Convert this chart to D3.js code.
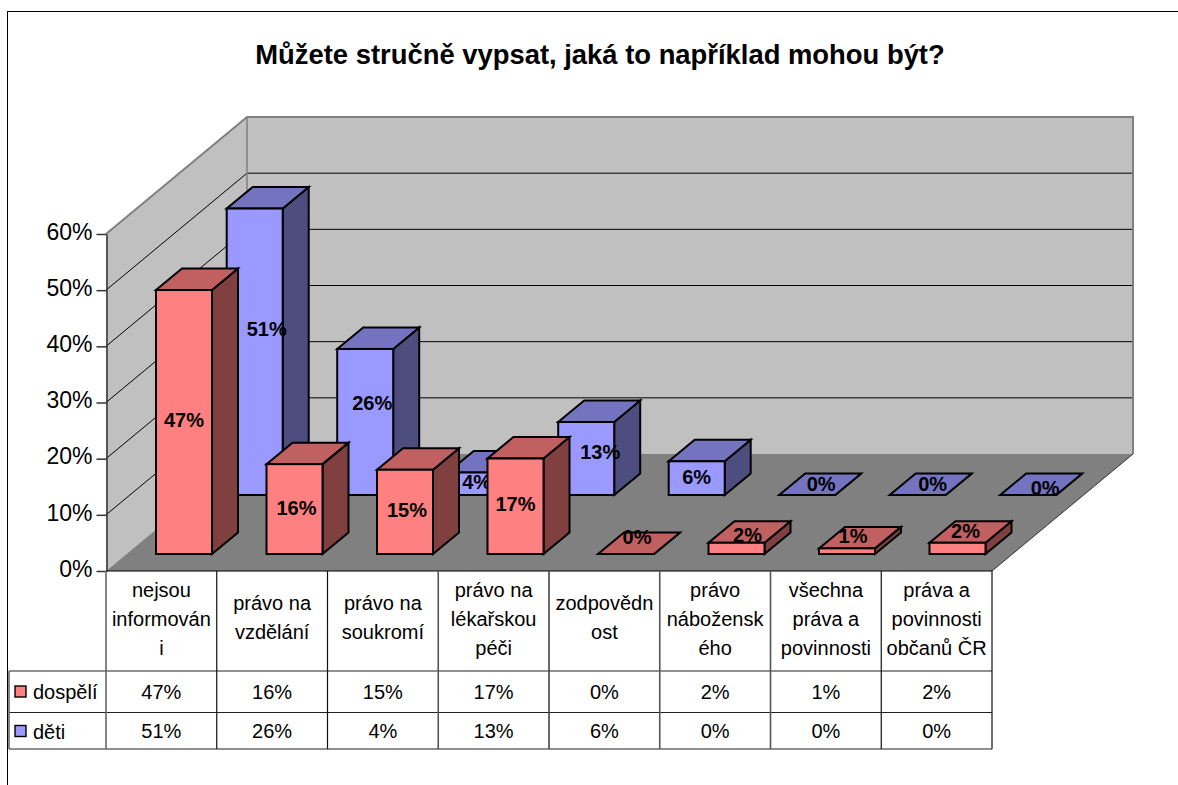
<!DOCTYPE html>
<html><head><meta charset="utf-8">
<script src="https://cdnjs.cloudflare.com/ajax/libs/d3/7.8.5/d3.min.js"></script>
<style>html,body{margin:0;padding:0;background:#fff;overflow:hidden}svg{display:block}text{font-family:"Liberation Sans",Arial,sans-serif}</style>
</head><body><svg id="c" width="1178" height="785"></svg>
<script>
const title = "Můžete stručně vypsat, jaká to například mohou být?";
const categories = [["nejsou","informován","i"],["právo na","vzdělání"],["právo na","soukromí"],["právo na","lékařskou","péči"],["zodpovědn","ost"],["právo","nábožensk","ého"],["všechna","práva a","povinnosti"],["práva a","povinnosti","občanů ČR"]];
const seriesNames = ["dospělí","děti"];
const dospeli = [47,16,15,17,0,2,1,2];
const deti = [51,26,4,13,6,0,0,0];
const yTicks = [0,10,20,30,40,50,60];

const svg = d3.select("#c");
// layout
const X0=106, X1=992, Y0=571, Ytop=234, DX=141, DY=-117;
const barW=56, barDX=26, barDY=-21.5;
const y = d3.scaleLinear().domain([0,60]).range([0,Ytop-Y0]);
const x = d3.scaleBand().domain(d3.range(categories.length)).range([X0,X1]);
const xBar = d3.scaleBand().domain(d3.range(categories.length)).range([156,156+8*110.5]);
const pts = a=>a.map(p=>p.join(",")).join(" ");
const fmt = v=>v+"%";

// chart border
svg.append("rect").attr("x",7.5).attr("y",11.5).attr("width",1300).attr("height",900).attr("fill","#fff").attr("stroke","#000");

// title
svg.append("text").attr("x",600).attr("y",64).attr("text-anchor","middle").attr("font-size",27.4).attr("font-weight","bold").text(title);

// walls
svg.append("polygon").attr("points",pts([[X0,Y0],[X0+DX,Y0+DY],[X0+DX,Ytop+DY],[X0,Ytop]])).attr("fill","#c0c0c0");
svg.append("polygon").attr("points",pts([[X0+DX,Y0+DY],[X1+DX,Y0+DY],[X1+DX,Ytop+DY],[X0+DX,Ytop+DY]])).attr("fill","#c0c0c0");
svg.append("polygon").attr("points",pts([[X0,Y0],[X1,Y0],[X1+DX,Y0+DY],[X0+DX,Y0+DY]])).attr("fill","#808080");

// gridlines
yTicks.slice(1,-1).forEach(t=>{
  const yy=Y0+y(t);
  svg.append("polyline").attr("fill","none").attr("stroke","#000").attr("stroke-width",1)
    .attr("points",pts([[X0,yy],[X0+DX,yy+DY],[X1+DX,yy+DY]]));
});
// wall edges
svg.append("polyline").attr("fill","none").attr("stroke","#808080").attr("stroke-width",2)
  .attr("points",pts([[X0,Ytop],[X0+DX,Ytop+DY],[X1+DX,Ytop+DY],[X1+DX,Y0+DY]]));
svg.append("line").attr("x1",X0+DX).attr("x2",X0+DX).attr("y1",Ytop+DY).attr("y2",Y0+DY).attr("stroke","#808080").attr("stroke-width",1.5);
svg.append("line").attr("x1",X1).attr("y1",Y0).attr("x2",X1+DX).attr("y2",Y0+DY).attr("stroke","#333").attr("stroke-width",1);

// axis
const axisScale = d3.scaleLinear().domain([0,60]).range([Y0,Ytop]);
const ax = svg.append("g").attr("transform",`translate(${X0+.5},0)`)
  .call(d3.axisLeft(axisScale).tickValues(yTicks).tickFormat(fmt).tickSize(10).tickSizeOuter(0));
ax.selectAll("path,line").attr("stroke","#333").attr("stroke-width",1.5);
ax.selectAll("text").attr("font-size",23).attr("fill","#000").attr("x",-14).attr("dy","0.23em").style("font-family",'"Liberation Sans"');

// bars
const palette=[{f:"#ff8080",t:"#c06060",s:"#804040"},{f:"#9999ff",t:"#7373bf",s:"#4d4d80"}];
const barBase=-17;  // series 0 base height above the front edge
const seriesDX=70.7, seriesDY=-59;
// manual data-label shifts as seen in the reference, per series and category
const labelShift=[
 [[0,-2],[2,-1],[2,-2],[0,-2],[-2,-6],[11,3],[6,-2],[8,-1]],
 [[12,-23],[7,-19],[1,-2],[14,-6],[0,-1],[1,0],[2,0],[4,4]]
];
function drawSeries(vals,si){
  const c=palette[si];
  const g=svg.append("g").attr("stroke","#000").attr("stroke-width",2).attr("stroke-linejoin","miter");
  vals.forEach((v,i)=>{
    const L=xBar(i)+si*seriesDX, R=L+barW;
    const B=Y0+barBase+si*seriesDY, T=B+y(v);
    g.append("polygon").attr("fill",c.s).attr("points",pts([[R,B],[R+barDX,B+barDY],[R+barDX,T+barDY],[R,T]]));
    g.append("polygon").attr("fill",c.t).attr("points",pts([[L,T],[R,T],[R+barDX,T+barDY],[L+barDX,T+barDY]]));
    g.append("rect").attr("fill",c.f).attr("x",L).attr("y",T).attr("width",barW).attr("height",B-T);
  });
  vals.forEach((v,i)=>{
    const L=xBar(i)+si*seriesDX, B=Y0+barBase+si*seriesDY, T=B+y(v);
    const isFlat=v===0, cx=L+barW/2+(isFlat?barDX/2:0), cy=(v<3?T+barDY/2:(T+B)/2);
    svg.append("text").attr("x",cx+labelShift[si][i][0]).attr("y",cy+labelShift[si][i][1]+7)
      .attr("text-anchor","middle").attr("font-size",20).attr("font-weight","bold").text(fmt(v));
  });
}
drawSeries(deti,1);
drawSeries(dospeli,0);

// data table
const rowTop=Y0, rowA=671, rowB=712.5, rowC=749, tableL=9;
const colColors=["#666","#111","#111","#555","#444","#555","#555","#111","#111"];
const t=svg.append("g");
const hl=(x1,x2,yy,col)=>t.append("line").attr("x1",x1).attr("x2",x2).attr("y1",yy).attr("y2",yy).attr("stroke",col).attr("stroke-width",1.2);
const vl=(xx,y1,y2,col,w)=>t.append("line").attr("x1",xx).attr("x2",xx).attr("y1",y1).attr("y2",y2).attr("stroke",col).attr("stroke-width",w);
hl(X0,X1,rowTop,"#000"); hl(tableL,X1,rowA,"#222"); hl(tableL,X1,rowB,"#222"); hl(tableL,X1,rowC,"#222");
vl(tableL,rowA,rowC,"#666",1.6);
d3.range(categories.length+1).forEach(i=>{
  const xx=i<categories.length?x(i):X1;
  vl(xx,rowTop,rowC,colColors[i],colColors[i]==="#111"?1.2:1.6);
});
const lineH=28.7, rowMid=(rowTop+rowA)/2;
categories.forEach((lines,i)=>{
  const cx=x(i)+x.bandwidth()/2;
  lines.forEach((l,k)=>{
    const off=lines.length===3?5:3.5;
    t.append("text").attr("x",cx).attr("y",rowMid+(k-(lines.length-1)/2)*lineH+off).attr("text-anchor","middle").attr("font-size",20).text(l);
  });
  [dospeli,deti].forEach((s,si)=>{
    t.append("text").attr("x",cx).attr("y",[rowA+28,rowB+25][si]).attr("text-anchor","middle").attr("font-size",20).text(fmt(s[i]));
  });
});
seriesNames.forEach((n,si)=>{
  const yy=[rowA+21,rowB+19][si];
  t.append("rect").attr("x",15).attr("y",yy-6).attr("width",11).attr("height",11).attr("fill",palette[si].f).attr("stroke","#000").attr("stroke-width",1.4);
  t.append("text").attr("x",33).attr("y",yy+7).attr("font-size",20).text(n);
});
</script></body></html>
